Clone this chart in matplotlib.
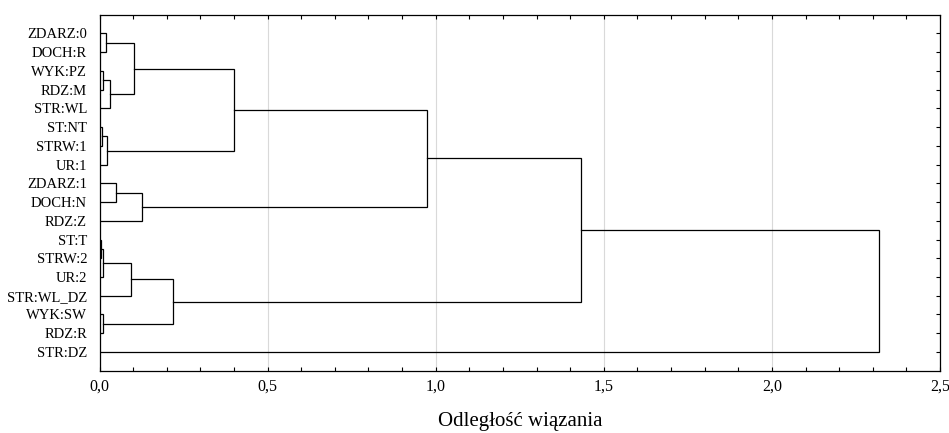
import matplotlib
matplotlib.use('Agg')
import matplotlib.pyplot as plt
from matplotlib.ticker import MultipleLocator

plt.rcParams['font.family'] = ['Liberation Serif', 'DejaVu Serif']

# liście w kolejności od góry
leaves = ['ZDARZ:0', 'DOCH:R', 'WYK:PZ', 'RDZ:M', 'STR:WL', 'ST:NT', 'STRW:1', 'UR:1',
          'ZDARZ:1', 'DOCH:N', 'RDZ:Z', 'ST:T', 'STRW:2', 'UR:2', 'STR:WL_DZ',
          'WYK:SW', 'RDZ:R', 'STR:DZ']

# połączenia: (lewy, prawy, odległość) - indeksy >= 18 to kolejne skupienia
merge_left = [0, 2, 19, 18, 5, 22, 21, 8, 25, 24, 11, 28, 29, 15, 30, 27, 33]
merge_right = [1, 3, 4, 20, 6, 7, 23, 9, 10, 26, 12, 13, 14, 16, 31, 32, 17]
merge_dist = [0.020, 0.010, 0.030, 0.101, 0.008, 0.021, 0.400, 0.048, 0.125, 0.975,
              0.005, 0.011, 0.093, 0.011, 0.219, 1.432, 2.320]

xticks = [0.0, 0.5, 1.0, 1.5, 2.0, 2.5]
xtick_labels = ['0,0', '0,5', '1,0', '1,5', '2,0', '2,5']

n = len(leaves)
pos = {i: i + 1 for i in range(n)}
height = {i: 0.0 for i in range(n)}

fig = plt.figure(figsize=(9.49, 4.33), dpi=100)
ax = fig.add_axes([0.1049, 0.1439, 0.8856, 0.8222])

for k, (a, b, d) in enumerate(zip(merge_left, merge_right, merge_dist)):
    ya, yb = pos[a], pos[b]
    ax.plot([height[a], d, d, height[b]], [ya, ya, yb, yb], color='black', lw=0.9,
            solid_joinstyle='miter')
    node = n + k
    pos[node] = (ya + yb) / 2
    height[node] = d

ax.set_xlim(0, 2.5)
ax.set_ylim(19, 0)
ax.set_xticks(xticks)
ax.set_xticklabels(xtick_labels, fontsize=11.5)
ax.xaxis.set_minor_locator(MultipleLocator(0.1))
ax.set_yticks(range(1, n + 1))
ax.set_yticklabels(leaves, fontsize=10.5)

ax.tick_params(axis='x', which='both', direction='in', top=True, length=3, width=0.8, pad=6)
ax.tick_params(axis='y', which='both', direction='in', left=False, right=True,
               length=3, width=0.8, pad=9)
ax.grid(axis='x', color='#d9d9d9', lw=0.8)
ax.set_axisbelow(True)
for s in ax.spines.values():
    s.set_linewidth(0.9)

ax.set_xlabel('Odległość wiązania', fontsize=15, labelpad=12)

fig.savefig('out.png', dpi=100)
